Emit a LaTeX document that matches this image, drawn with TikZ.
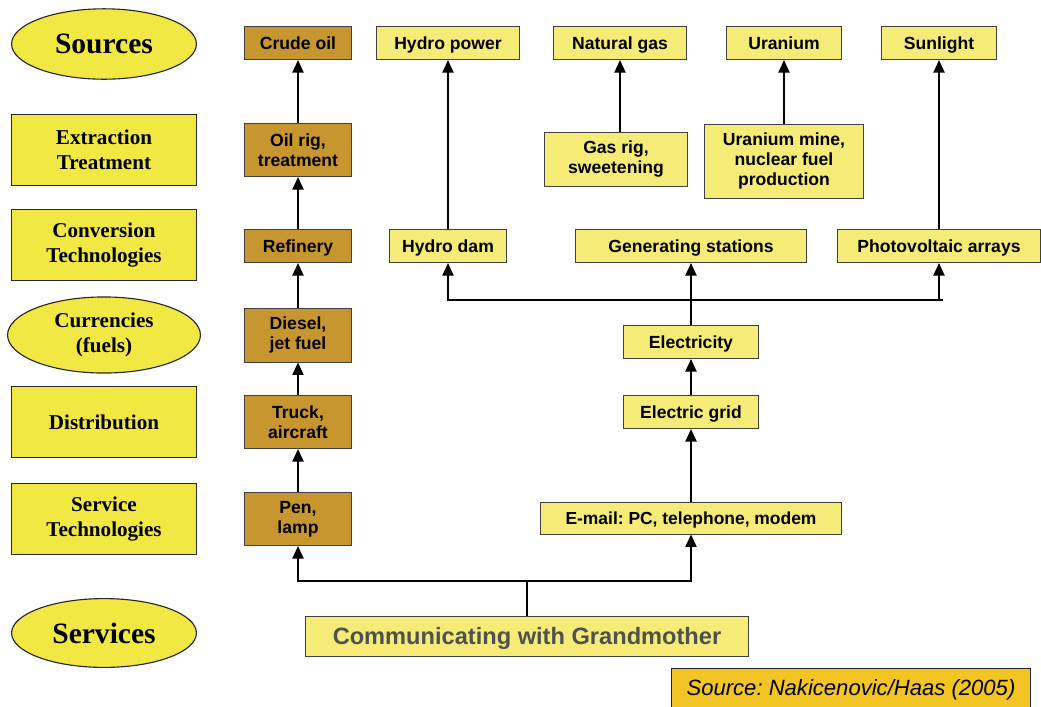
\documentclass[tikz,border=0pt]{standalone}
\usepackage{fontspec}
\setmainfont{Liberation Serif}
\setsansfont{Liberation Sans}
\usepackage{xcolor}
\usepackage{tikz}
\usetikzlibrary{shapes,arrows.meta,positioning,calc}
\frenchspacing

\definecolor{levelyellow}{HTML}{F1E843}
\definecolor{boxyellow}{HTML}{F5EC78}
\definecolor{oilbrown}{HTML}{C7962E}
\definecolor{sourcegold}{HTML}{F2C524}
\definecolor{servicegray}{HTML}{505050}

\tikzset{
  level/.style={draw=black!85, line width=0.8pt, fill=levelyellow, minimum width=4.62cm, minimum height=1.76cm,
    align=center, font=\rmfamily\bfseries\fontsize{15}{18}\selectfont},
  levelell/.style={level, ellipse},
  oilbox/.style={draw=black!75, line width=0.7pt, fill=oilbrown, minimum width=2.68cm, minimum height=0.83cm,
    align=center, font=\sffamily\bfseries\fontsize{12.5}{14.2}\selectfont},
  elbox/.style={oilbox, fill=boxyellow},
  single/.style={text height=#1, text depth=1pt},
  single/.default=10pt,
  link/.style={-{Triangle[length=0.31cm,width=0.28cm]}, line width=0.9pt},
}

\begin{document}
\begin{tikzpicture}[x=0.025cm, y=-0.025cm]
    \useasboundingbox (0,0) rectangle (1041,706);

    % Levels
    \node[levelell, font=\rmfamily\bfseries\fontsize{21}{24}\selectfont] (sources) at (104,44) {Sources};
    \node[level] (extract) at (104,150) {Extraction\\Treatment};
    \node[level] (convert) at (104,245) {Conversion\\Technologies};
    \node[levelell, minimum width=4.82cm] (currency) at (104,335) {Currencies\\(fuels)};
    \node[level] (distrib) at (104,422) {Distribution};
    \node[level] (servtech) at (104,519) {Service\\Technologies};
    \node[levelell, minimum height=1.72cm, font=\rmfamily\bfseries\fontsize{21}{24}\selectfont] (services) at (104,633) {Services};

    % Oil chain
    \node[oilbox, single] (crude) at (298,43) {Crude oil};
    \node[oilbox, minimum height=1.33cm] (oilrig) at (298,150) {Oil rig,\\treatment};
    \node[oilbox, single] (refinery) at (298,246) {Refinery};
    \node[oilbox, minimum height=1.35cm] (diesel) at (298,335) {Diesel,\\jet fuel};
    \node[oilbox, minimum height=1.33cm] (truck) at (298,422) {Truck,\\aircraft};
    \node[oilbox, minimum height=1.33cm] (pen) at (298,519) {Pen,\\lamp};

    % Electricity chain
    \node[elbox, single, minimum width=3.55cm] (hydro) at (448,43) {Hydro power};
    \node[elbox, single, minimum width=3.3cm] (natgas) at (620,43) {Natural gas};
    \node[elbox, single, minimum width=2.88cm] (uranium) at (784,43) {Uranium};
    \node[elbox, single, minimum width=2.88cm] (sunlight) at (939,43) {Sunlight};
    \node[elbox, minimum width=3.55cm, minimum height=1.35cm] (gasrig) at (616,159) {Gas rig,\\sweetening};
    \node[elbox, minimum width=3.95cm, minimum height=1.85cm] (umine) at (784,161) {Uranium mine,\\nuclear fuel\\production};
    \node[elbox, single, minimum width=2.9cm] (hydrodam) at (448,246) {Hydro dam};
    \node[elbox, single, minimum width=5.75cm] (genstat) at (691,246) {Generating stations};
    \node[elbox, single, minimum width=5.08cm] (pv) at (939,246) {Photovoltaic arrays};
    \node[elbox, single, minimum width=3.35cm] (electricity) at (691,342) {Electricity};
    \node[elbox, single, minimum width=3.35cm] (grid) at (691,412) {Electric grid};
    \node[elbox, single, minimum width=7.52cm, minimum height=0.8cm, font=\sffamily\bfseries\fontsize{12.4}{14}\selectfont] (email) at (691,518) {E-mail: PC, telephone, modem};

    % Service
    \node[elbox, single=13pt, minimum width=11.07cm, minimum height=1cm, text=servicegray,
      font=\sffamily\bfseries\fontsize{16.8}{20}\selectfont] (comm) at (527,636) {Communicating with Grandmother};
    \node[draw=black!85, line width=0.7pt, fill=sourcegold, minimum width=8.95cm, minimum height=1.0cm, single=12.2pt,
      font=\sffamily\itshape\fontsize{15.7}{18}\selectfont] (source) at (851,688) {Source: Nakicenovic/Haas (2005)};

    % Arrows, oil
    \draw[link] (oilrig) -- (crude);
    \draw[link] (refinery) -- (oilrig);
    \draw[link] (diesel) -- (refinery);
    \draw[link] (truck) -- (diesel);
    \draw[link] (pen) -- (truck);

    % Arrows, electricity
    \draw[link] (hydrodam) -- (hydro);
    \draw[link] (gasrig.north -| natgas) -- (natgas);
    \draw[link] (umine) -- (uranium);
    \draw[link] (pv) -- (sunlight);
    \coordinate (elj) at (691,300);
    \coordinate (elend) at (943,300);
    \draw[link] (electricity) -- (genstat);
    \draw[link] (elj) -| (hydrodam);
    \draw[line width=0.9pt] (elj) -- (elend);
    \draw[link] (pv |- elj) -- (pv);
    \draw[link] (grid) -- (electricity);
    \draw[link] (email) -- (grid);

    % Service split
    \coordinate (servj) at (527,581);
    \draw[line width=0.9pt] (comm) -- (servj);
    \draw[link] (servj) -| (pen);
    \draw[link] (servj) -| (email);
\end{tikzpicture}
\end{document}
